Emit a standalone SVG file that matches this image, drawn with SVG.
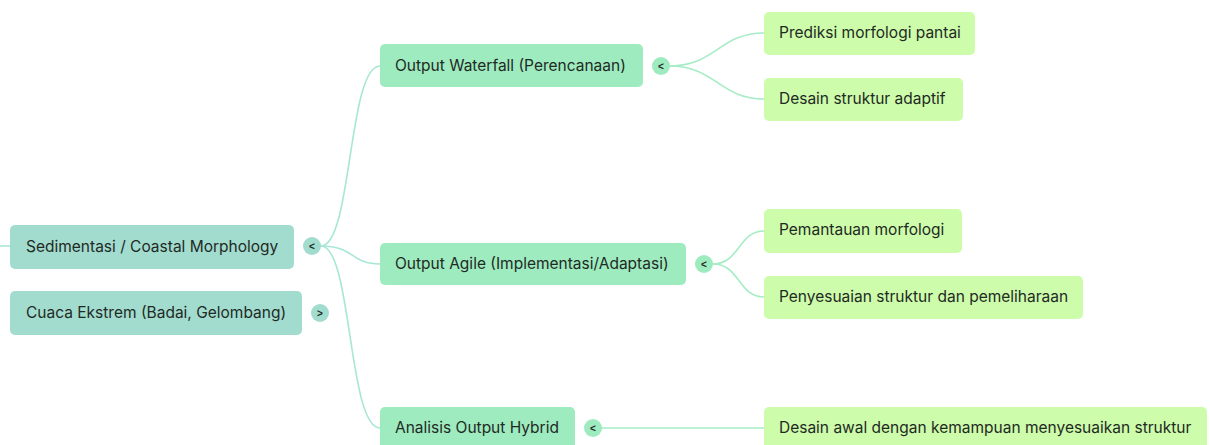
<svg xmlns="http://www.w3.org/2000/svg" width="1210" height="445" viewBox="0 0 1210 445">
<style>
.t{font-family:Inter,"Open Sans","Liberation Sans",sans-serif;font-size:15.5px;fill:#1f2a24}
.root{fill:#a2dccf}
.l1{fill:#9eebbf}
.l2{fill:#cdfcaa}
.tg{font-family:"Liberation Sans",sans-serif;font-size:10px;font-weight:bold;fill:#1f2a24;text-anchor:middle}
.c1{fill:none;stroke:#a8e6d6;stroke-width:1.6}
.c2{fill:none;stroke:#a6ecc6;stroke-width:1.6}
</style>
<rect width="1210" height="445" fill="#ffffff"/>
<g id="connectors">
<path class="c1" d="M0 246 H10"/>
<path class="c1" d="M321 246 C352 246 348 66 380 66"/>
<path class="c1" d="M321 246 C355 246 350 264 380 264"/>
<path class="c1" d="M321 246 C352 246 348 428 380 428"/>
<path class="c2" d="M670 66 C715 66 720 33 764 33"/>
<path class="c2" d="M670 66 C715 66 720 99 764 99"/>
<path class="c2" d="M713 264 C740 264 738 231 764 231"/>
<path class="c2" d="M713 264 C740 264 738 297 764 297"/>
<path class="c2" d="M602 428 H764"/>
</g>
<g id="n-sedimentasi">
<rect class="root" x="10" y="225" width="284" height="44" rx="5"/>
<text class="t" x="26" y="252">Sedimentasi / Coastal Morphology</text>
<circle class="root" cx="312" cy="246" r="9"/>
<text class="tg" x="312" y="250">&lt;</text>
</g>
<g id="n-cuaca">
<rect class="root" x="10" y="291" width="292" height="44" rx="5"/>
<text class="t" x="26" y="318">Cuaca Ekstrem (Badai, Gelombang)</text>
<circle class="root" cx="320" cy="313" r="9"/>
<text class="tg" x="320" y="317">&gt;</text>
</g>
<g id="n-waterfall">
<rect class="l1" x="380" y="44" width="263" height="43" rx="5"/>
<text class="t" x="395" y="71">Output Waterfall (Perencanaan)</text>
<circle class="l1" cx="661" cy="66" r="9"/>
<text class="tg" x="661" y="70">&lt;</text>
</g>
<g id="n-agile">
<rect class="l1" x="380" y="243" width="306" height="42" rx="5"/>
<text class="t" x="395" y="269">Output Agile (Implementasi/Adaptasi)</text>
<circle class="l1" cx="704" cy="264" r="9"/>
<text class="tg" x="704" y="268">&lt;</text>
</g>
<g id="n-hybrid">
<rect class="l1" x="380" y="407" width="195" height="44" rx="5"/>
<text class="t" x="395" y="433">Analisis Output Hybrid</text>
<circle class="l1" cx="593" cy="428" r="9"/>
<text class="tg" x="593" y="432">&lt;</text>
</g>
<g id="n-prediksi">
<rect class="l2" x="764" y="12" width="211" height="43" rx="5"/>
<text class="t" x="779" y="38">Prediksi morfologi pantai</text>
</g>
<g id="n-desain-adaptif">
<rect class="l2" x="764" y="78" width="199" height="43" rx="5"/>
<text class="t" x="779" y="104">Desain struktur adaptif</text>
</g>
<g id="n-pemantauan">
<rect class="l2" x="764" y="209" width="198" height="44" rx="5"/>
<text class="t" x="779" y="235">Pemantauan morfologi</text>
</g>
<g id="n-penyesuaian">
<rect class="l2" x="764" y="276" width="319" height="43" rx="5"/>
<text class="t" x="779" y="302">Penyesuaian struktur dan pemeliharaan</text>
</g>
<g id="n-desain-awal">
<rect class="l2" x="764" y="407" width="443" height="44" rx="5"/>
<text class="t" x="779" y="433">Desain awal dengan kemampuan menyesuaikan struktur</text>
</g>
</svg>
